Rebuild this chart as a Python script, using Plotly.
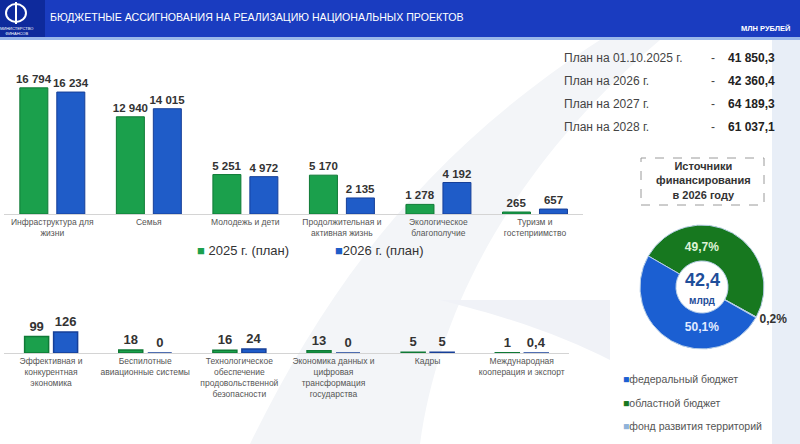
import plotly.graph_objects as go

W, H = 800, 444
def px(x): return x / W
def py(y): return 1 - y / H

# ---------------- data ----------------
top_categories = ["Инфраструктура для<br>жизни", "Семья", "Молодежь и дети",
                  "Продолжительная и<br>активная жизнь", "Экологическое<br>благополучие",
                  "Туризм и<br>гостеприимство"]
top_2025 = [16794, 12940, 5251, 5170, 1278, 265]
top_2026 = [16234, 14015, 4972, 2135, 4192, 657]

bottom_categories = ["Эффективная и<br>конкурентная<br>экономика",
                     "Беспилотные<br>авиационные системы",
                     "Технологическое<br>обеспечение<br>продовольственной<br>безопасности",
                     "Экономика данных и<br>цифровая<br>трансформация<br>государства",
                     "Кадры",
                     "Международная<br>кооперация и экспорт"]
bottom_2025 = [99, 18, 16, 13, 5, 1]
bottom_2026 = [126, 0, 24, 0, 5, 0.4]

series_names = ["2025 г. (план)", "2026 г. (план)"]

plan_labels = ["План на 01.10.2025 г.", "План на 2026 г.", "План на 2027 г.", "План на 2028 г."]
plan_values = ["41 850,3", "42 360,4", "64 189,3", "61 037,1"]

pie_labels = ["областной бюджет", "фонд развития территорий", "федеральный бюджет"]
pie_values = [49.7, 0.2, 50.1]
legend_order = ["федеральный бюджет", "областной бюджет", "фонд развития территорий"]
pie_total_text = "42,4"

GREEN = "#1ba04c"
GREEN_EDGE = "#0f7a36"
BLUE = "#1f5cc8"
BLUE_EDGE = "#163f98"
PIE_COLORS = {"областной бюджет": "#17781f", "фонд развития территорий": "#8fb3da",
              "федеральный бюджет": "#1b5fd2"}

FONT = "Liberation Sans, Arial, sans-serif"
NARROW = "Liberation Sans Narrow, Arial Narrow, Liberation Sans, sans-serif"

fig = go.Figure()

top_label_font = dict(size=11.5, color="#333", family=FONT)
bottom_label_font = dict(size=13, color="#333", family=FONT)

common = dict(textposition="outside", constraintext="none", cliponaxis=False, showlegend=False,
              texttemplate="<b>%{y:,}</b>")

# top bars
fig.add_trace(go.Bar(x=top_categories, y=top_2025, name=series_names[0],
                     marker=dict(color=GREEN, line=dict(color=GREEN_EDGE, width=1)),
                     width=0.29, offset=-0.336, textfont=top_label_font,
                     xaxis="x", yaxis="y", **common))
fig.add_trace(go.Bar(x=top_categories, y=top_2026, name=series_names[1],
                     marker=dict(color=BLUE, line=dict(color=BLUE_EDGE, width=1)),
                     width=0.29, offset=0.047, textfont=top_label_font,
                     xaxis="x", yaxis="y", **common))
# bottom bars
fig.add_trace(go.Bar(x=bottom_categories, y=bottom_2025, name=series_names[0],
                     marker=dict(color=GREEN, line=dict(color=GREEN_EDGE, width=1.5)),
                     width=0.255, offset=-0.281, textfont=bottom_label_font,
                     xaxis="x2", yaxis="y2", **common))
fig.add_trace(go.Bar(x=bottom_categories, y=bottom_2026, name=series_names[1],
                     marker=dict(color=BLUE, line=dict(color=BLUE_EDGE, width=1.5)),
                     width=0.255, offset=0.027, textfont=bottom_label_font,
                     xaxis="x2", yaxis="y2", **common))

# donut
fig.add_trace(go.Pie(labels=pie_labels, values=pie_values, sort=False, direction="clockwise",
                     rotation=-60, hole=0.42,
                     marker=dict(colors=[PIE_COLORS[l] for l in pie_labels],
                                 line=dict(color="#b8cfe8", width=1)),
                     texttemplate="<b>%{percent}</b>",
                     textposition=["inside", "outside", "inside"],
                     insidetextorientation="horizontal",
                     textfont=dict(size=12, family=FONT, color=["#dff3d6", "#333333", "#e2ebff"]),
                     domain=dict(x=[px(640), px(764)], y=[py(349), py(225)]),
                     showlegend=False, hoverinfo="label+percent"))

shapes = []
# background decorations
shapes.append(dict(type="path", xref="paper", yref="paper", layer="below",
                   path=f"M {px(250)},{py(444)} C {px(330)},{py(280)} {px(430)},{py(150)} {px(600)},{py(40)} "
                        f"L {px(660)},{py(40)} C {px(520)},{py(160)} {px(440)},{py(300)} {px(420)},{py(444)} Z",
                   fillcolor="#f3f5f8", line=dict(width=0)))
shapes.append(dict(type="path", xref="paper", yref="paper", layer="below",
                   path=f"M {px(440)},{py(300)} C {px(520)},{py(320)} {px(570)},{py(340)} {px(610)},{py(360)} "
                        f"L {px(610)},{py(300)} Z",
                   fillcolor="#f0f2f7", line=dict(width=0)))
shapes.append(dict(type="rect", xref="paper", yref="paper", layer="below",
                   x0=px(772), x1=1, y0=py(444), y1=py(40), fillcolor="#e8eef7", line=dict(width=0)))
# header
shapes.append(dict(type="rect", xref="paper", yref="paper", x0=0, x1=1, y0=py(37), y1=1,
                   fillcolor="#1a3cc0", line=dict(width=0)))
shapes.append(dict(type="rect", xref="paper", yref="paper", x0=0, x1=px(45), y0=py(37), y1=1,
                   fillcolor="#0e2a9c", line=dict(width=0)))
shapes.append(dict(type="rect", xref="paper", yref="paper", x0=0, x1=1, y0=py(40), y1=py(37),
                   fillcolor="#9ab8ea", line=dict(width=0)))
# logo
shapes.append(dict(type="circle", xref="paper", yref="paper", x0=px(6), x1=px(26), y0=py(22), y1=py(4),
                   line=dict(color="white", width=2)))
shapes.append(dict(type="line", xref="paper", yref="paper", x0=px(16), x1=px(16), y0=py(24), y1=py(2),
                   line=dict(color="white", width=2)))
# dashed box
shapes.append(dict(type="rect", xref="paper", yref="paper", x0=px(641), x1=px(764), y0=py(205), y1=py(158),
                   line=dict(color="#9a9a9a", width=1, dash="dash"), fillcolor="rgba(0,0,0,0)"))

annotations = []
def ann(x, y, text, size=11, color="#333", xanchor="center", family=FONT, **kw):
    annotations.append(dict(x=px(x), y=py(y), xref="paper", yref="paper", text=text, showarrow=False,
                            xanchor=xanchor, yanchor="middle", font=dict(size=size, color=color, family=family), **kw))

ann(256, 17, "БЮДЖЕТНЫЕ АССИГНОВАНИЯ НА РЕАЛИЗАЦИЮ НАЦИОНАЛЬНЫХ ПРОЕКТОВ", size=10.6, color="white",
    family=NARROW)
ann(792, 28, "<b>МЛН РУБЛЕЙ</b>", size=7.5, color="white", xanchor="right", family=NARROW)
ann(16, 31, "МИНИСТЕРСТВО<br>ФИНАНСОВ", size=4, color="white")

# legend for bars
ann(195, 250, f"<span style='color:{GREEN}'>■</span> {series_names[0]}", size=13, color="#333", xanchor="left")
ann(333, 250, f"<span style='color:{BLUE}'>■</span>{series_names[1]}", size=13, color="#333", xanchor="left")

# plan rows
rows_y = [58, 81, 104, 127]
for lab, val, yy in zip(plan_labels, plan_values, rows_y):
    ann(562, yy, lab, size=12, color="#444", xanchor="left")
    ann(713, yy, "-", size=12, color="#444")
    ann(777, yy, f"<b>{val}</b>", size=12, color="#222", xanchor="right")

# box title
ann(703, 181, "<b>Источники<br>финансирования<br>в 2026 году</b>", size=11, color="#333")

# donut center
ann(702, 280, f"<b>{pie_total_text}</b>", size=18, color="#1f4e9a")
ann(702, 300, "<b>млрд</b>", size=10, color="#1f4e9a")

# pie legend
leg_y = [379, 403, 426]
for lab, yy in zip(legend_order, leg_y):
    ann(621, yy, f"<span style='color:{PIE_COLORS[lab]}'>■</span>{lab}", size=10.5, color="#555", xanchor="left")

fig.update_layout(
    width=W, height=H, margin=dict(l=0, r=0, t=0, b=0),
    paper_bgcolor="white", plot_bgcolor="rgba(0,0,0,0)",
    separators=", ", barmode="group",
    font=dict(family=FONT),
    xaxis=dict(domain=[0.005, 0.729], type="category", showline=True, linecolor="#d4d4d4", linewidth=1,
               ticks="", showgrid=False, zeroline=False, tickfont=dict(size=8.5, color="#555"),
               anchor="y", fixedrange=True),
    yaxis=dict(domain=[py(214), py(60)], range=[0, 20500], visible=False, anchor="x"),
    xaxis2=dict(domain=[0.005, 0.711], type="category", showline=True, linecolor="#d4d4d4", linewidth=1,
                ticks="", showgrid=False, zeroline=False, tickfont=dict(size=8.5, color="#555"),
                anchor="y2"),
    yaxis2=dict(domain=[py(353), py(293)], range=[0, 360], visible=False, anchor="x2"),
    shapes=shapes, annotations=annotations,
)

fig.write_html("out.html", config={"displayModeBar": False},
               post_script="document.body.style.margin='0';document.body.style.overflow='hidden';")
